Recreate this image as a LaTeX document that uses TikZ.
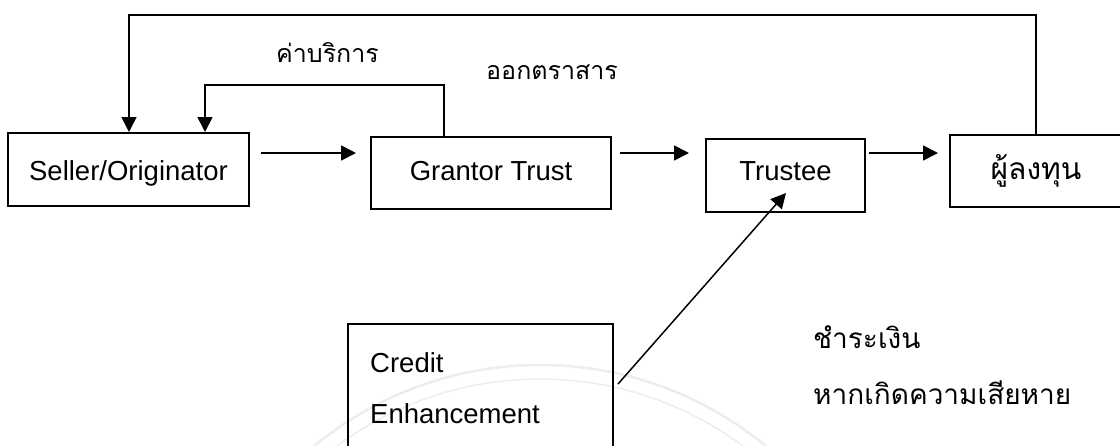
\documentclass[tikz,border=0pt]{standalone}
\usepackage{fontspec}
\setmainfont{Liberation Sans}
\newfontfamily\thai[Script=Thai]{Loma}
\usetikzlibrary{arrows.meta}
\begin{document}
\begin{tikzpicture}[x=1pt,y=-1pt,
  box/.style={draw,line width=2pt,inner sep=0pt},
  conn/.style={line width=1.7pt,-{Triangle[length=15pt,width=15pt]}},
  lat/.style={font=\fontsize{27.5}{33}\selectfont,inner sep=0pt},
  th/.style={font=\thai\fontsize{25}{30}\selectfont,inner sep=0pt},
  thbig/.style={font=\thai\fontsize{28}{34}\selectfont,inner sep=0pt},
  wm/.style={draw=gray!14,line width=2.5pt}]
\useasboundingbox (0,0) rectangle (1120,445);
\clip (0,0) rectangle (1120,445);
% watermark
\draw[wm] (540,720) circle (355);
\draw[wm,line width=1.5pt] (540,720) circle (341);
% boxes
\node[box,minimum width=241pt,minimum height=73pt] (seller) at (128.5,169.5) {};
\node[box,minimum width=240pt,minimum height=72pt] (grantor) at (491,173) {};
\node[box,minimum width=159pt,minimum height=73pt] (trustee) at (785.5,175.5) {};
\node[box,minimum width=172pt,minimum height=72pt] (investor) at (1036,171) {};
\node[box,minimum width=265pt,minimum height=146pt] (credit) at (480.5,397) {};
% texts
\node[lat,anchor=base] (tseller) at (128.5,180) {Seller/Originator};
\node[lat,anchor=base] (tgrantor) at (491,180) {Grantor Trust};
\node[lat,anchor=base] (ttrustee) at (785.5,180) {Trustee};
\node[thbig,font=\thai\fontsize{30}{36}\selectfont,anchor=base] (tinvestor) at (1036,179) {ผู้ลงทุน};
\node[lat,anchor=base west] (tcredit1) at (370,372) {Credit};
\node[lat,anchor=base west] (tcredit2) at (370,423) {Enhancement};
\node[th,anchor=base] (lfee) at (327.5,62) {ค่าบริการ};
\node[th,anchor=base] (lissue) at (552,79) {ออกตราสาร};
\node[thbig,anchor=base west] (lpay1) at (813,348) {ชำระเงิน};
\node[thbig,anchor=base west] (lpay2) at (813,404) {หากเกิดความเสียหาย};
% connectors
\coordinate (rowy) at (0,153);
\draw[conn,shorten <=11pt,shorten >=14pt] (seller.east |- rowy) -- (grantor.west |- rowy);
\draw[conn,shorten <=8pt,shorten >=16pt] (grantor.east |- rowy) -- (trustee.west |- rowy);
\draw[conn,shorten <=3pt,shorten >=11pt] (trustee.east |- rowy) -- (investor.west |- rowy);
\coordinate (topL) at (129,15);
\coordinate (topR) at (1036,15);
\draw[conn] (investor.north) -- (topR) -- (topL) -- (seller.north -| topL);
\coordinate (inL) at (205,85);
\coordinate (inR) at (444,85);
\draw[conn] (grantor.north -| inR) -- (inR) -- (inL) -- (seller.north -| inL);
\coordinate (dy) at (0,384);
\path (credit.east |- dy) ++(4,0) coordinate (dstart);
\coordinate (dtip) at (786,193);
\draw[conn,line width=1.5pt] (dstart) -- (dtip);
\end{tikzpicture}
\end{document}
